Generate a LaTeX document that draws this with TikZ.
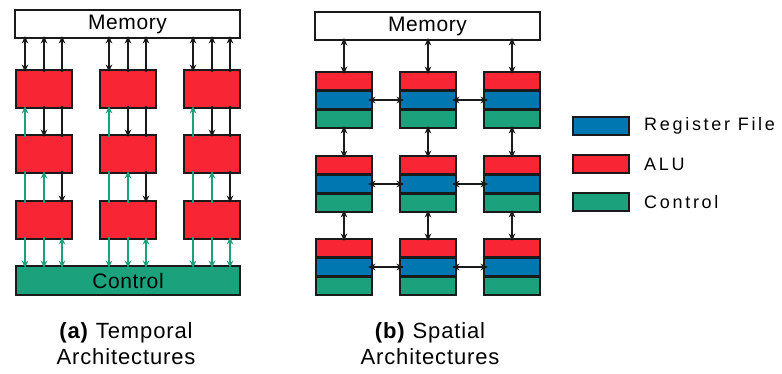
\documentclass[tikz,border=0pt]{standalone}
\usepackage{fontspec}
\setmainfont{Liberation Sans}
\newfontfamily\wide[LetterSpace=15]{Liberation Sans}
\newfontfamily\semiwide[LetterSpace=3]{Liberation Sans}
\newfontfamily\capfont[LetterSpace=4]{Liberation Sans}
\usetikzlibrary{arrows.meta,calc}
\definecolor{cred}{RGB}{248,38,52}
\definecolor{cblue}{RGB}{0,119,176}
\definecolor{cgreen}{RGB}{27,162,124}
\definecolor{cline}{RGB}{26,26,26}
\begin{document}
\begin{tikzpicture}[x=1pt,y=-1pt,
  box/.style={draw=cline,line width=2.4pt,rectangle,inner sep=0pt,outer sep=0pt,anchor=north west},
  membox/.style={box,fill=white,minimum width=225pt,minimum height=28pt,font=\semiwide\fontsize{21}{24}\selectfont},
  alu/.style={box,fill=cred,minimum width=56pt,minimum height=38pt},
  ctrl/.style={box,fill=cgreen,minimum width=224pt,minimum height=29pt,font=\semiwide\fontsize{21}{24}\selectfont},
  stripe/.style={box,minimum width=56pt,minimum height=18.67pt},
  legbox/.style={box,line width=2pt,minimum width=56pt,minimum height=18pt},
  legtext/.style={anchor=west,inner sep=0pt,font=\wide\fontsize{18}{20}\selectfont},
  captxt/.style={align=center,font=\capfont\fontsize{22}{26}\selectfont},
  mytip/.tip={Stealth[length=7.5pt,width=6.5pt]},
  conn/.style={line width=1.8pt,shorten <=-2pt,shorten >=-2pt},
  blk/.style={conn,draw=cline,-mytip},
  dblk/.style={conn,draw=cline,mytip-mytip},
  pblk/.style={conn,draw=cline},
  grn/.style={conn,draw=cgreen,-mytip},
  dgrn/.style={conn,draw=cgreen,mytip-mytip},
  pgrn/.style={conn,draw=cgreen}]
\useasboundingbox (0,0) rectangle (782,374);

% ---------- (a) Temporal ----------
\node[membox] (memA) at (15,10) {Memory};
\foreach \i/\y in {1/70,2/135,3/201}{
  \foreach \j/\x in {1/16,2/100,3/184}{
    \node[alu] (t\i\j) at (\x,\y) {};
  }
}
\node[ctrl] (ctlA) at (16,266) {Control};
\foreach \j in {1,2,3}{
  \coordinate (xa\j) at ([xshift=-19pt]t1\j.north);
  \coordinate (xb\j) at (t1\j.north);
  \coordinate (xc\j) at ([xshift=18pt]t1\j.north);
  % memory <-> row 1
  \draw[dblk] (xa\j |- memA.south) -- (xa\j |- t1\j.north);
  \draw[blk] (xb\j |- t1\j.north) -- (xb\j |- memA.south);
  \draw[blk] (xc\j |- t1\j.north) -- (xc\j |- memA.south);
  % row 1 <-> row 2
  \draw[grn] (xa\j |- t2\j.north) -- (xa\j |- t1\j.south);
  \draw[blk] (xb\j |- t1\j.south) -- (xb\j |- t2\j.north);
  \draw[pblk] (xc\j |- t1\j.south) -- (xc\j |- t2\j.north);
  % row 2 <-> row 3
  \draw[pgrn] (xa\j |- t2\j.south) -- (xa\j |- t3\j.north);
  \draw[grn] (xb\j |- t3\j.north) -- (xb\j |- t2\j.south);
  \draw[blk] (xc\j |- t2\j.south) -- (xc\j |- t3\j.north);
  % row 3 <-> control
  \draw[grn] (xa\j |- t3\j.south) -- (xa\j |- ctlA.north);
  \draw[grn] (xb\j |- t3\j.south) -- (xb\j |- ctlA.north);
  \draw[dgrn] (xc\j |- t3\j.south) -- (xc\j |- ctlA.north);
}
\node[captxt] (capA) at (126,344) {\textbf{(a)} Temporal\\Architectures};

% ---------- (b) Spatial ----------
\node[membox] (memB) at (315,12) {Memory};
\foreach \i/\y in {1/72,2/156,3/239}{
  \foreach \j/\x in {1/316,2/400,3/484}{
    \node[stripe,fill=cred] (r\i\j) at (\x,\y) {};
    \node[stripe,fill=cblue] (b\i\j) at (\x,\y+18.67) {};
    \node[stripe,fill=cgreen] (g\i\j) at (\x,\y+37.33) {};
  }
}
\foreach \j in {1,2,3}{
  \draw[dblk] (r1\j.north |- memB.south) -- (r1\j.north);
  \draw[dblk] (g1\j.south) -- (r2\j.north);
  \draw[dblk] (g2\j.south) -- (r3\j.north);
}
\foreach \i in {1,2,3}{
  \draw[dblk,shorten <=-4pt,shorten >=-4pt] (b\i1.east) -- (b\i2.west);
  \draw[dblk,shorten <=-4pt,shorten >=-4pt] (b\i2.east) -- (b\i3.west);
}
\node[captxt] (capB) at (430,344) {\textbf{(b)} Spatial\\Architectures};

% ---------- legend ----------
\node[legbox,fill=cblue] (lgB) at (573,117) {};
\node[legbox,fill=cred] (lgR) at (573,155) {};
\node[legbox,fill=cgreen] (lgG) at (573,193) {};
\node[legtext] (ltB) at ([xshift=15pt]lgB.east) {Register File};
\node[legtext] (ltR) at ([xshift=15pt]lgR.east) {ALU};
\node[legtext] (ltG) at ([xshift=15pt]lgG.east) {Control};
\end{tikzpicture}
\end{document}
